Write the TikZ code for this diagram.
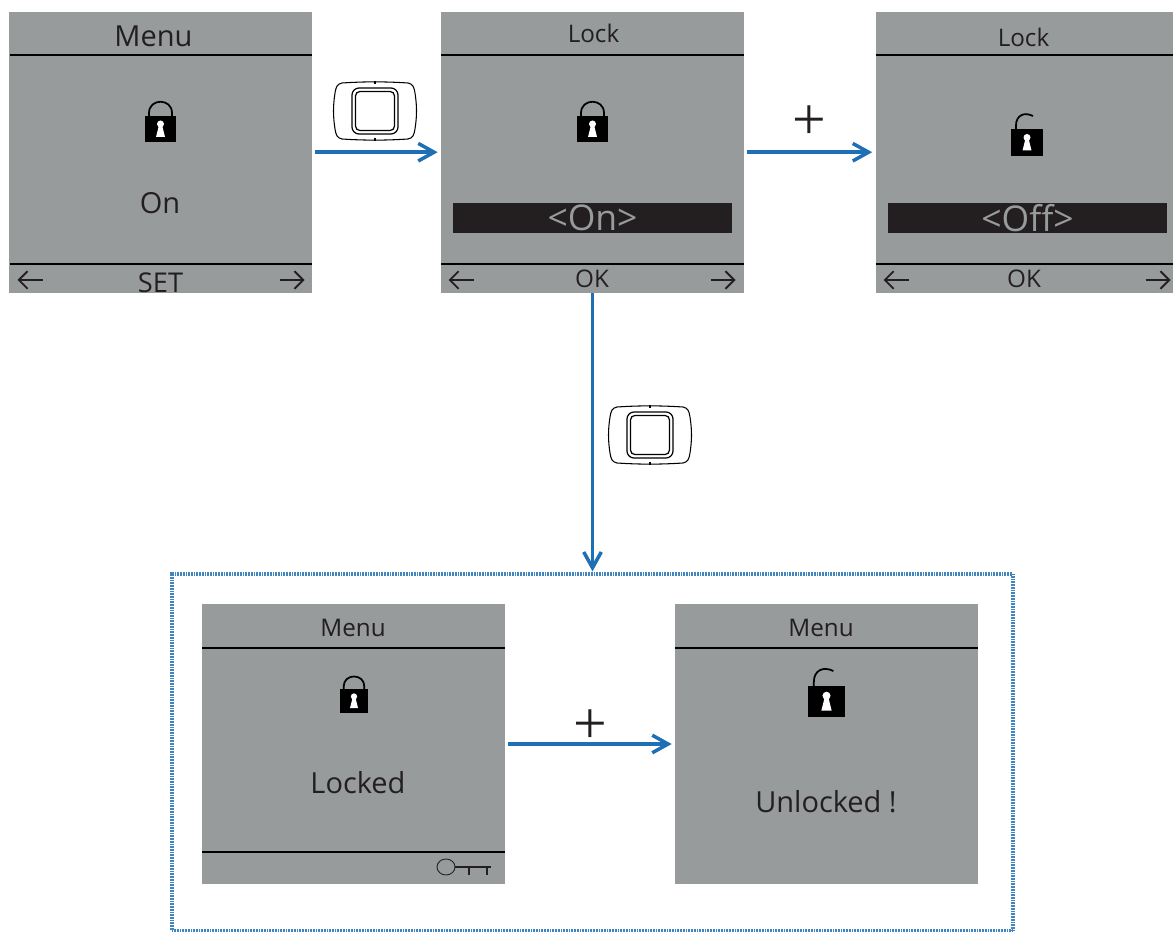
\documentclass[tikz,border=0pt]{standalone}
\usepackage{fontspec}
\setmainfont{Open Sans}
\newfontfamily\plusfont{Liberation Serif}
\usetikzlibrary{arrows.meta}
\definecolor{lcdgray}{HTML}{989B9B}
\definecolor{inkdark}{HTML}{231F20}
\definecolor{flowblue}{HTML}{1F6FB5}
\tikzstyle{screen}=[fill=lcdgray, minimum width=6.06cm, minimum height=5.62cm, inner sep=0pt]
\tikzstyle{caption}=[text=inkdark, inner sep=0pt, font=\fontsize{16.5}{19}\selectfont]
\tikzstyle{softkey}=[caption, font=\fontsize{13.8}{16}\selectfont]
\tikzstyle{plussign}=[caption, font=\plusfont\fontsize{34}{34}\selectfont]
\tikzstyle{selbar}=[fill=inkdark, text=lcdgray, minimum width=5.58cm, minimum height=0.62cm, inner sep=0pt, font=\fontsize{20.2}{23}\selectfont]
\tikzstyle{rule}=[line width=1.7pt, black]
\tikzstyle{flow}=[->, >={Straight Barb[length=9pt,width=10pt]}, line width=2pt, flowblue, shorten >=1.7pt, shorten <=1.7pt]
\tikzstyle{groupbox}=[draw=flowblue!85, line width=2pt, dash pattern=on 0.35pt off 0.55pt, minimum width=16.82cm, minimum height=7.14cm, inner sep=0pt]
\tikzset{
  softarrow/.pic={\draw [line width=1.1pt, inkdark, ->, >={Straight Barb[length=5pt,width=10pt]}] (-12.5,0) -- (12.5,0);},
  closedlock/.pic={
    \fill [black] (-15.5,-13) rectangle (15.5,13);
    \draw [line width=1pt] (-11.5,-13) -- (-11.5,-16) .. controls (-11.5,-31) and (11.5,-31) .. (11.5,-16) -- (11.5,-13);
    \fill [white] (0,-5) circle (3.5);
    \fill [white] (-1.5,-4) -- (-4.5,8) -- (4.5,8) -- (1.5,-4) -- cycle;},
  openlock/.pic={
    \fill [black] (-16,-13.5) rectangle (16,13.5);
    \draw [line width=1pt] (-11,-13.5) -- (-11,-17) .. controls (-11,-27) and (-3,-31) .. (6,-26.5);
    \fill [white] (0,-5) circle (3.5);
    \fill [white] (-1.5,-4) -- (-4.5,8) -- (4.5,8) -- (1.5,-4) -- cycle;},
  button/.pic={
    \draw [line width=0.6pt] (-33,-28) .. controls (-10,-29.5) and (10,-29.5) .. (33,-28)
      .. controls (38,-27) and (39,-24) .. (40,-18) .. controls (42,-5) and (42,5) .. (40,18)
      .. controls (39,24) and (38,27) .. (33,28) .. controls (10,29.5) and (-10,29.5) .. (-33,28)
      .. controls (-38,27) and (-39,24) .. (-40,18) .. controls (-42,5) and (-42,-5) .. (-40,-18)
      .. controls (-39,-24) and (-38,-27) .. (-33,-28) -- cycle;
    \draw [line width=0.7pt, rounded corners=4pt] (-23,-23) rectangle (23,23);
    \draw [line width=0.7pt, rounded corners=2.5pt] (-19.5,-19.5) rectangle (19.5,19.5);
    \draw [line width=0.8pt] (0,-30) -- (0,-27) (0,27) -- (0,30);}
}

\begin{document}
\begin{tikzpicture}[x=0.02cm, y=-0.02cm]
\useasboundingbox (0,0) rectangle (1173,932);
% Menu, on
\path (160.5,152.2) node [screen] (menuon) {};
\path (153.5,36.5) node [caption] (menuontitle) {Menu};
\path (160,203) node [caption] (onvalue) {On};
\path (160.5,283) node [caption, font=\fontsize{15.5}{18}\selectfont] (setkey) {SET};
\draw [rule] (9.5,55) -- (312,55) (9.5,264) -- (312,264);
\path (160.5,129) pic {closedlock};
\path (30,280) pic [rotate=180] {softarrow};
\path (292,280) pic {softarrow};
% Lock, on
\path (592.5,152.2) node [screen] (lockon) {};
\path (593.5,33) node [softkey] (lockontitle) {Lock};
\path (592.5,218) node [selbar] (onbar) {<On>};
\path (592,279) node [softkey] (okon) {OK};
\draw [rule] (441,55) -- (744,55) (441,264) -- (744,264);
\path (592.5,129) pic {closedlock};
\path (461,280) pic [rotate=180] {softarrow};
\path (723,280) pic {softarrow};
% Lock, off
\path (1024.5,152.2) node [screen, minimum width=5.96cm] (lockoff) {};
\path (1023.5,37) node [softkey] (lockofftitle) {Lock};
\path (1027.5,218) node [selbar] (offbar) {<Off>};
\path (1024,279) node [softkey] (okoff) {OK};
\draw [rule] (875.5,55) -- (1173,55) (875.5,264) -- (1173,264);
\path (1027,142.5) pic {openlock};
\path (896,280) pic [rotate=180] {softarrow};
\path (1158,280) pic {softarrow};
% Frame
\path (592.5,752.5) node [groupbox] (lockframe) {};
% Locked
\path (353.5,744) node [screen] (locked) {};
\path (353,627.5) node [softkey] (lockedtitle) {Menu};
\path (358,782.5) node [caption] (lockedtext) {Locked};
\draw [rule] (202,648) -- (505,648) (202,852) -- (505,852);
\path (354,701) pic [scale=0.9] {closedlock};
\draw [line width=0.5pt, inkdark] (446,867) ellipse (9 and 8);
\draw [line width=0.7pt, inkdark] (455,867) -- (491,867) (469,867) -- (469,875) (487,867) -- (487,875);
% Unlocked
\path (826.5,744) node [screen] (unlocked) {};
\path (821,627.5) node [softkey] (unlockedtitle) {Menu};
\path (826,801.5) node [caption] (unlockedtext) {Unlocked !};
\draw [rule] (675,648) -- (978,648);
\path (826.5,701.5) pic [scale=1.15] {openlock};
% buttons
\path (375,111) pic {button};
\path (650,435) pic {button};
% plus signs
\path (809,122.5) node [plussign] (plustop) {+};
\path (590,727) node [plussign] (plusbottom) {+};
% arrows
\draw [flow] (menuon) -- (lockon);
\draw [flow] (lockon) -- (lockoff);
\draw [flow, shorten <=0pt, shorten >=0.5pt] (lockon) -- (lockframe);
\draw [flow] (locked) -- (unlocked);
\end{tikzpicture}
\end{document}
